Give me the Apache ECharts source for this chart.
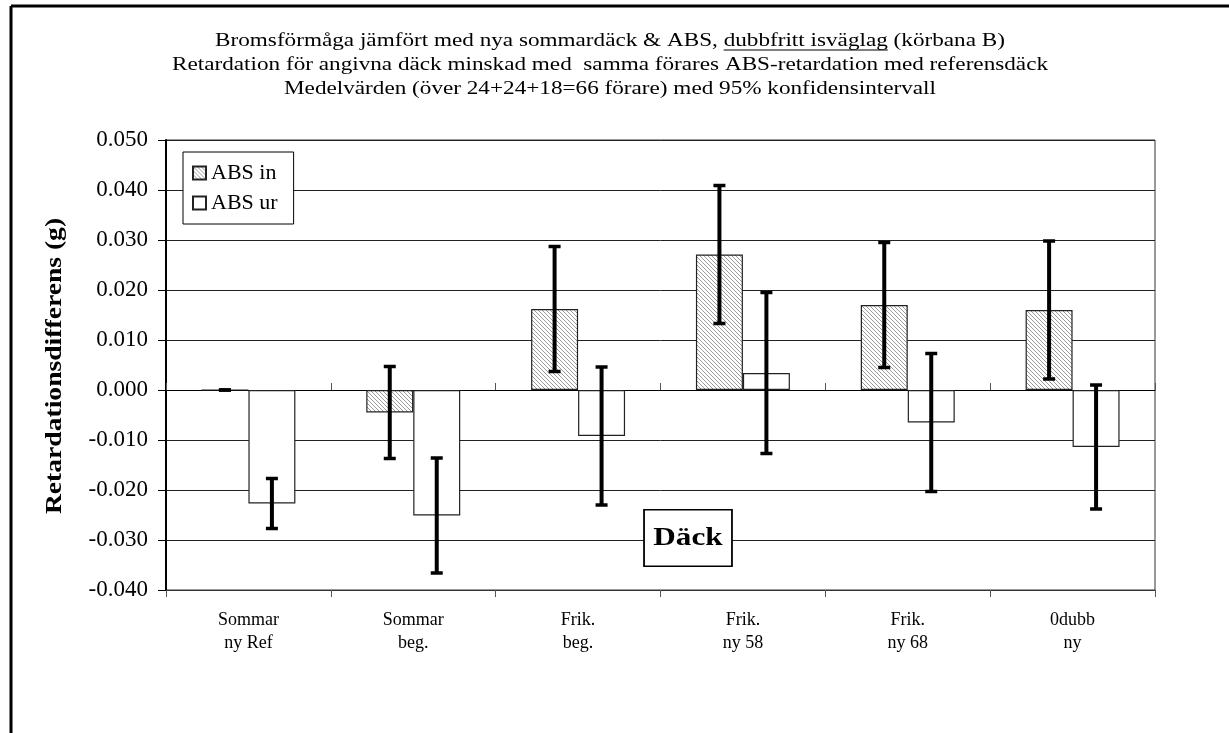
<!DOCTYPE html>
<html>
<head>
<meta charset="utf-8">
<script src="https://cdn.jsdelivr.net/npm/echarts@6/dist/echarts.min.js"></script>
<style>
  html, body { margin: 0; padding: 0; background: #fff; }
  #chart { width: 1229px; height: 733px; }
</style>
</head>
<body>
<div id="chart"></div>
<script>
// Tyres tested (category axis)
const categories = ['Sommar\nny Ref', 'Sommar\nbeg.', 'Frik.\nbeg.', 'Frik.\nny 58', 'Frik.\nny 68', '0dubb\nny'];
// Mean retardation difference (g) and 95% confidence half-widths
const absIn   = [0.0000, -0.0045, 0.0162, 0.0271, 0.0170, 0.0160];
const absInCI = [0.0000,  0.0092, 0.0125, 0.0138, 0.0125, 0.0138];
const absUr   = [-0.0227, -0.0251, -0.0092, 0.0034, -0.0065, -0.0114];
const absUrCI = [0.0050,  0.0115, 0.0138, 0.0161, 0.0138, 0.0124];
const yTicks  = { min: -0.04, max: 0.05, step: 0.01 };

const titleLines = [
  ['Bromsförmåga jämfört med nya sommardäck & ABS, ', 'dubbfritt isväglag', ' (körbana B)'],
  ['Retardation för angivna däck minskad med  samma förares ABS-retardation med referensdäck'],
  ['Medelvärden (över 24+24+18=66 förare) med 95% konfidensintervall']
];

const SERIF = '"Liberation Serif", "Times New Roman", serif';
const BAR_FRAC = 0.285;            // each bar's share of a category band
const WIDE = 1.22;                 // horizontal stretch of the wide serif lettering

// fine diagonal hatch used for the "ABS in" bars
function hatch() {
  const c = document.createElement('canvas');
  c.width = 4; c.height = 4;
  const g = c.getContext('2d');
  g.fillStyle = '#ffffff'; g.fillRect(0, 0, 4, 4);
  g.fillStyle = '#9a9a9a';
  for (let i = 0; i < 4; i++) g.fillRect(i, i, 1, 1);
  return c;
}

function errorBars(offset) {
  return function (params, api) {
    const cat = api.value(0), v = api.value(1), ci = api.value(2);
    const c = api.coord([cat, v]);
    const hi = api.coord([cat, v + ci]);
    const lo = api.coord([cat, v - ci]);
    const band = api.size([1, 0])[0];
    const x = c[0] + offset * band;
    const cap = 6;
    const capStyle = { stroke: '#000', lineWidth: 3.5 };
    return {
      type: 'group',
      children: [
        { type: 'line', shape: { x1: x, y1: hi[1], x2: x, y2: lo[1] }, style: { stroke: '#000', lineWidth: 4 } },
        { type: 'line', shape: { x1: x - cap, y1: hi[1], x2: x + cap, y2: hi[1] }, style: capStyle },
        { type: 'line', shape: { x1: x - cap, y1: lo[1], x2: x + cap, y2: lo[1] }, style: capStyle }
      ]
    };
  };
}

const chart = echarts.init(document.getElementById('chart'), null, { renderer: 'canvas' });

// three-line heading, the middle phrase of the first line underlined
const TITLE_FONT = '19px "Liberation Serif"';
const meas = document.createElement('canvas').getContext('2d');
meas.font = TITLE_FONT;
const TITLE_CX = 610, TITLE_Y0 = 41, TITLE_DY = 24;
const graphics = [];
titleLines.forEach((parts, i) => {
  const full = parts.join('');
  const y = TITLE_Y0 + i * TITLE_DY;
  graphics.push({
    type: 'text', x: TITLE_CX, y: y, scaleX: WIDE, z: 10,
    style: { text: full, font: TITLE_FONT, fill: '#000', align: 'center', verticalAlign: 'middle' }
  });
  if (parts.length === 3) {
    const w = meas.measureText(full).width * WIDE;
    const x0 = TITLE_CX - w / 2 + meas.measureText(parts[0]).width * WIDE;
    const x1 = x0 + meas.measureText(parts[1]).width * WIDE;
    graphics.push({ type: 'line', z: 10, shape: { x1: x0, y1: y + 9, x2: x1, y2: y + 9 }, style: { stroke: '#000', lineWidth: 1.2 } });
  }
});
// y axis title
graphics.push({
  type: 'text', x: 55, y: 366, rotation: Math.PI / 2, scaleX: 1.15, z: 10,
  style: { text: 'Retardationsdifferens (g)', font: 'bold 24px "Liberation Serif"', fill: '#000', align: 'center', verticalAlign: 'middle' }
});
// x axis title box
graphics.push({
  type: 'text', x: 688, y: 538, scaleX: 1.2, z: 10,
  style: {
    text: 'Däck', font: 'bold 26px "Liberation Serif"', fill: '#000', align: 'center', verticalAlign: 'middle',
    backgroundColor: '#fff', borderColor: '#000', borderWidth: 1.5, padding: [15, 7, 14, 7]
  }
});
// outer frame (left and top edges)
graphics.push({ type: 'line', z: 10, shape: { x1: 11, y1: 6, x2: 1229, y2: 6 }, style: { stroke: '#000', lineWidth: 3 } });
graphics.push({ type: 'line', z: 10, shape: { x1: 11, y1: 6, x2: 11, y2: 733 }, style: { stroke: '#000', lineWidth: 3 } });

const pattern = { image: hatch(), repeat: 'repeat' };

chart.setOption({
  animation: false,
  backgroundColor: '#fff',
  grid: { left: 166, top: 140, width: 989, height: 450, show: true, borderColor: '#333', borderWidth: 1 },
  legend: {
    orient: 'vertical', left: 183, top: 152,
    backgroundColor: '#fff', borderColor: '#000', borderWidth: 1,
    padding: [10, 16, 10, 9], itemGap: 8, itemWidth: 13, itemHeight: 13,
    icon: 'rect',
    textStyle: { fontFamily: SERIF, fontSize: 22, lineHeight: 22, color: '#000', padding: [0, 0, 0, 0] },
    data: ['ABS in', 'ABS ur']
  },
  xAxis: [
    {
      type: 'category', data: categories, position: 'bottom',
      axisLine: { onZero: false, lineStyle: { color: '#333', width: 1 } },
      axisTick: { show: false },
      axisLabel: { fontFamily: SERIF, fontSize: 18, color: '#000', lineHeight: 23, margin: 19 }
    },
    {
      type: 'category', data: categories, position: 'bottom',
      axisLine: { onZero: true, lineStyle: { color: '#000', width: 1 } },
      axisTick: { show: true, inside: true, length: 7, lineStyle: { color: '#555' } },
      axisLabel: { show: false }
    },
    {
      type: 'category', data: categories, position: 'bottom',
      axisLine: { onZero: true, show: false },
      axisTick: { show: true, inside: false, length: 7, lineStyle: { color: '#555' } },
      axisLabel: { show: false }
    }
  ],
  yAxis: {
    type: 'value', min: yTicks.min, max: yTicks.max, interval: yTicks.step,
    axisLine: { show: true, lineStyle: { color: '#000', width: 2 } },
    axisTick: { show: true, length: 8, lineStyle: { color: '#000' } },
    splitLine: { lineStyle: { color: '#222', width: 1 } },
    axisLabel: {
      fontFamily: SERIF, fontSize: 23, color: '#000', margin: 18,
      formatter: v => (Math.abs(v) < 1e-9 ? 0 : v).toFixed(3)
    }
  },
  series: [
    {
      name: 'ABS in', type: 'bar', xAxisIndex: 0, data: absIn,
      barWidth: (BAR_FRAC * 100) + '%', barGap: '0%',
      itemStyle: { color: pattern, borderColor: '#222', borderWidth: 1.2 }
    },
    {
      name: 'ABS ur', type: 'bar', xAxisIndex: 0, data: absUr,
      barWidth: (BAR_FRAC * 100) + '%', barGap: '0%',
      itemStyle: { color: '#fff', borderColor: '#222', borderWidth: 1.2 }
    },
    {
      type: 'custom', xAxisIndex: 0, z: 5, silent: true,
      renderItem: errorBars(-BAR_FRAC / 2),
      encode: { x: 0, y: 1 },
      data: absIn.map((v, i) => [i, v, absInCI[i]])
    },
    {
      type: 'custom', xAxisIndex: 0, z: 5, silent: true,
      renderItem: errorBars(BAR_FRAC / 2),
      encode: { x: 0, y: 1 },
      data: absUr.map((v, i) => [i, v, absUrCI[i]])
    }
  ],
  graphic: graphics
});
</script>
</body>
</html>
